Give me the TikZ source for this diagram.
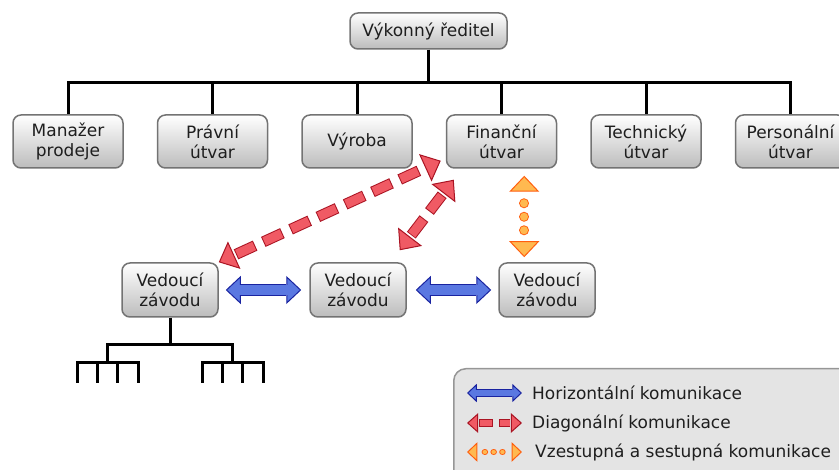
\documentclass[tikz,border=0pt]{standalone}
\usepackage{fontspec}
\setmainfont{DejaVu Sans}
\usepackage{tikz}
\usetikzlibrary{arrows.meta,positioning,calc}
\definecolor{boxBorder}{RGB}{115,115,115}
\definecolor{boxShade}{RGB}{188,188,188}
\definecolor{boxText}{RGB}{30,30,30}
\definecolor{legendFill}{RGB}{228,228,228}
\definecolor{legendBorder}{RGB}{150,150,150}
\definecolor{horizDark}{RGB}{25,35,160}
\definecolor{horizFill}{RGB}{90,120,225}
\definecolor{diagDark}{RGB}{170,20,35}
\definecolor{diagFill}{RGB}{240,90,100}
\definecolor{vertDark}{RGB}{255,95,15}
\definecolor{vertFill}{RGB}{255,185,80}
\tikzset{
  orgbox/.style={
    rectangle, rounded corners=8pt, draw=boxBorder, line width=1.5pt,
    top color=white, bottom color=boxShade, text=boxText, align=center,
    inner sep=0pt, font=\fontsize{17}{20}\selectfont
  },
  topbox/.style={orgbox, minimum width=157pt, minimum height=36pt},
  unitbox/.style={orgbox, minimum width=110pt, minimum height=53pt},
  plantbox/.style={orgbox, minimum width=96pt, minimum height=54pt},
  orgline/.style={line width=3pt, draw=black},
  legendbox/.style={
    rectangle, rounded corners=12pt, draw=legendBorder, line width=1.5pt,
    fill=legendFill
  },
  legendtext/.style={anchor=west, text=boxText, inner sep=0pt,
    font=\fontsize{17}{20}\selectfont},
  % fat arrows: heads, outline pass, fill pass
  horiz tips/.style={tips, <->, >={Triangle[width=28pt,length=15pt,scale=#1,
    fill=horizFill,color=horizDark,line width=1pt 0]}},
  horiz out/.style={draw=horizDark, line width=#1*12pt,
    shorten <=#1*15pt, shorten >=#1*15pt},
  horiz in/.style={draw=horizFill, line width=#1*12pt-2pt,
    shorten <=#1*15pt-1.5pt, shorten >=#1*15pt-1.5pt},
  diag tips/.style={tips, <->, >={Triangle[width=30pt,length=17pt,scale=#1,
    fill=diagFill,color=diagDark,line width=1pt 0]}},
  diag out/.style={draw=diagDark, line width=#1*11pt,
    dash pattern=on #1*21pt off #1*9pt,
    shorten <=#1*19pt, shorten >=#1*19pt},
  diag in/.style={draw=diagFill, line width=#1*11pt-2pt,
    dash pattern=on #1*21pt-2pt off #1*9pt+2pt, dash phase=#1*30pt-1pt,
    shorten <=#1*19pt, shorten >=#1*19pt},
  vert tips/.style={tips, <->, >={Triangle[width=30pt,length=16pt,scale=#1,
    fill=vertFill,color=vertDark,line width=1pt 0]}},
  vert out/.style={draw=vertDark, line width=#1*10pt, line cap=round,
    dash pattern=on 0.01pt off #1*13.5pt,
    shorten <=#1*27.5pt, shorten >=#1*26.5pt},
  vert in/.style={draw=vertFill, line width=#1*10pt-2pt, line cap=round,
    dash pattern=on 0.01pt off #1*13.5pt,
    shorten <=#1*27.5pt, shorten >=#1*26.5pt}
}
\newcommand{\commarrow}[4][1]{%
  \path[#2 tips=#1] #3 -- #4;
  \draw[#2 out=#1] #3 -- #4;
  \draw[#2 in=#1] #3 -- #4;}

\begin{document}
\begin{tikzpicture}[x=1pt, y=-1pt]
  \useasboundingbox (0,0) rectangle (839,470);

  \node[topbox] (ceo) at (428.5,31) {Výkonný ředitel};

  \node[unitbox] (m1) at (68,141.5) {Manažer\\prodeje};
  \node[unitbox, right=33pt of m1] (m2) {Právní\\útvar};
  \node[unitbox, right=33pt of m2] (m3) {Výroba};
  \node[unitbox, right=33pt of m3] (m4) {Finanční\\útvar};
  \node[unitbox, right=33pt of m4] (m5) {Technický\\útvar};
  \node[unitbox, right=33pt of m5] (m6) {Personální\\útvar};

  \node[plantbox] (v1) at (170,290) {Vedoucí\\závodu};
  \node[plantbox, right=90.5pt of v1] (v2) {Vedoucí\\závodu};
  \node[plantbox, right=91.5pt of v2] (v3) {Vedoucí\\závodu};

  % top level tree
  \coordinate (bus) at (0,83);
  \draw[orgline] (ceo.south) -- (ceo.south |- bus);
  \draw[orgline] (m1.north) -- (m1.north |- bus) -- (m6.north |- bus) -- (m6.north);
  \foreach \u in {m2,m3,m4,m5}
    \draw[orgline] (\u.north) -- (\u.north |- bus);

  % sub tree below plant manager
  \coordinate (branch) at (0,345);
  \coordinate (twig) at (0,363);
  \coordinate (g1) at (107,0);
  \coordinate (g2) at (232,0);
  \draw[orgline] (v1.south) -- (v1.south |- branch);
  \draw[orgline] (g1 |- twig) -- (g1 |- branch) -- (g2 |- branch) -- (g2 |- twig);
  \foreach \l in {77,202} {
    \draw[orgline] (\l,383) -- (\l,363) -- (\l+61,363) -- (\l+61,383);
    \foreach \k in {20,40}
      \draw[orgline] (\l+\k,363) -- (\l+\k,383);
  }

  % communication
  \commarrow{horiz}{($(v1.east)+(7,0)$)}{($(v2.west)+(-8,0)$)}
  \commarrow{horiz}{($(v2.east)+(9,0)$)}{($(v3.west)+(-7,0)$)}
  \commarrow{diag}{(v1.north east)}{($(m4.south west)+(-5,-8)$)}
  \commarrow{diag}{($(m4.south west)+(8,11)$)}{($(v2.north east)+(-7,-12)$)}
  \coordinate (vmid) at ($(m4.south)!0.5!(v3.north)$);
  \commarrow{vert}{($(vmid |- m4.south)+(0,7)$)}{($(vmid |- v3.north)+(0,-5)$)}

  % legend
  \node[legendbox, anchor=north west, minimum width=420pt, minimum height=140pt]
    (legend) at (453,368) {};
  \node[legendtext] (lh) at ($(legend.north west)+(79,25)$) {Horizontální komunikace};
  \node[legendtext] (ld) at ($(legend.north west)+(79,55)$) {Diagonální komunikace};
  \node[legendtext] (lv) at ($(legend.north west)+(82,84)$) {Vzestupná a sestupná komunikace};
  \commarrow[0.65]{horiz}{($(lh.west)+(-65,0)$)}{($(lh.west)+(-10,0)$)}
  \commarrow[0.65]{diag}{($(ld.west)+(-65,0)$)}{($(ld.west)+(-10,0)$)}
  \commarrow[0.65]{vert}{($(lv.west)+(-68,0)$)}{($(lv.west)+(-13,0)$)}
\end{tikzpicture}
\end{document}
